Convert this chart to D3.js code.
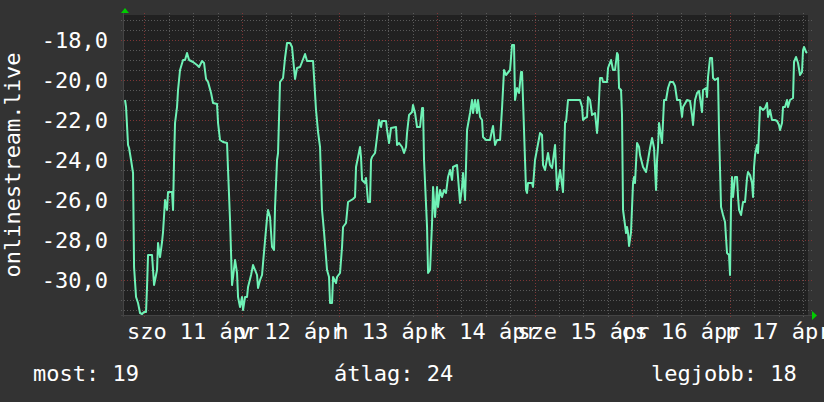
<!DOCTYPE html>
<html><head><meta charset="utf-8">
<script src="https://cdn.jsdelivr.net/npm/d3@7"></script>
<style>html,body{margin:0;padding:0;background:#333;} svg{display:block}</style>
</head><body>
<svg id="c" width="824" height="402"></svg>
<script>
// hours relative to 2020-04-11 00:00
const hours = [-4.75,-4.50,-4.01,-3.76,-3.27,-2.78,-2.53,-2.04,-1.55,-1.06,-0.57,-0.07,0.42,0.66,0.91,1.89,2.14,2.39,3.12,3.37,3.86,4.35,4.60,5.09,5.58,5.83,6.81,7.06,7.31,7.55,8.04,8.29,8.78,9.52,10.01,10.50,11.00,11.98,12.96,13.46,14.19,14.69,15.18,15.67,16.41,16.90,17.88,18.13,18.62,19.36,20.34,20.59,21.08,21.57,21.82,22.31,22.80,23.05,23.54,24.03,24.28,24.77,25.26,25.51,26.25,26.74,27.23,27.72,27.97,28.46,28.95,29.20,30.18,30.43,30.92,31.41,31.90,32.15,32.64,32.89,33.38,34.12,34.61,35.10,35.84,36.33,36.58,37.07,37.56,38.30,38.79,39.53,40.02,41.50,41.74,42.23,42.73,43.22,43.71,44.20,44.94,45.43,45.68,46.17,46.42,47.15,47.40,48.14,48.63,48.88,49.61,50.11,51.34,51.83,52.07,52.57,53.06,53.30,53.55,54.29,54.53,55.03,55.52,55.76,56.01,56.75,57.24,57.73,58.22,58.47,59.45,59.70,60.19,60.68,61.91,62.16,62.65,63.39,63.88,64.37,64.62,65.11,65.85,66.09,66.59,67.08,67.82,68.31,68.56,68.80,69.54,69.79,70.28,70.77,71.02,71.51,72.00,72.24,72.74,73.23,73.72,74.21,74.70,75.20,75.69,75.93,76.92,77.16,77.66,78.15,78.39,78.89,79.38,80.12,80.61,80.85,81.35,81.84,82.08,82.58,83.07,83.31,84.05,85.03,85.53,85.77,86.27,86.76,87.50,87.99,88.48,88.97,89.96,90.45,90.94,91.18,91.68,92.17,92.66,92.91,93.15,93.64,93.89,94.14,94.38,95.37,95.61,96.10,97.34,97.83,98.07,98.56,99.30,99.79,100.29,101.03,101.52,102.26,102.99,103.49,103.73,104.22,107.17,107.67,107.91,108.40,108.90,109.14,109.63,110.13,110.86,111.36,111.60,112.09,112.59,112.83,113.82,114.06,114.80,115.29,115.78,116.28,116.52,116.77,117.26,117.50,117.75,118.24,118.49,118.73,118.98,119.23,119.72,120.21,120.46,120.70,121.20,121.69,121.93,122.67,123.41,123.90,124.39,124.89,125.38,125.87,126.12,126.36,126.61,127.34,127.84,128.33,128.82,129.31,130.05,130.54,131.04,131.77,132.26,132.51,133.50,134.23,134.72,134.97,135.46,135.96,136.45,137.18,137.43,138.17,138.41,138.66,139.15,139.64,139.89,140.38,141.12,141.37,141.86,142.35,142.84,143.33,143.82,144.07,144.32,144.56,144.81,145.30,145.79,146.04,146.29,146.78,147.27,147.76,148.25,148.50,148.99,149.48,149.73,149.98,150.22,150.71,150.96,151.45,152.19,152.68,153.17,153.42,153.91,154.40,155.14,155.63,156.12,156.37,156.86,157.11,157.60,158.09,158.34,158.83,159.57,159.81,160.31,160.80,161.29,161.78,162.03,162.27,162.77,163.01];
const values = [-21.0,-21.35,-23.25,-23.4,-24.0,-24.65,-29.35,-30.85,-31.15,-31.65,-31.7,-31.6,-31.6,-30.35,-28.75,-28.75,-29.5,-30.25,-29.5,-28.15,-28.85,-28.1,-27.6,-26.0,-26.5,-25.6,-25.6,-26.5,-24.0,-22.15,-21.35,-20.5,-19.5,-19.0,-19.0,-18.65,-19.0,-19.1,-19.25,-19.35,-19.05,-19.15,-19.95,-20.1,-20.65,-21.15,-21.2,-22.15,-23.0,-23.1,-23.15,-24.5,-27.0,-30.25,-29.85,-29.0,-29.65,-30.85,-31.35,-30.85,-31.5,-30.85,-30.85,-30.35,-29.75,-29.25,-29.5,-29.75,-30.4,-30.0,-29.75,-29.15,-26.9,-26.5,-26.85,-28.35,-28.5,-26.35,-24.0,-23.65,-20.1,-19.9,-18.9,-18.15,-18.15,-18.35,-18.9,-19.95,-19.4,-19.35,-19.1,-18.7,-19.05,-19.05,-19.85,-21.5,-22.6,-23.35,-26.5,-27.6,-29.5,-29.85,-31.15,-31.15,-29.85,-30.15,-29.85,-29.65,-28.35,-27.35,-27.15,-26.1,-25.95,-25.85,-24.35,-23.85,-23.35,-23.85,-25.0,-25.15,-24.9,-26.1,-26.1,-24.0,-23.85,-23.65,-22.85,-22.0,-22.35,-22.05,-22.05,-22.5,-23.15,-22.4,-22.35,-23.25,-23.15,-23.35,-23.65,-23.35,-22.65,-21.75,-21.6,-21.25,-21.65,-22.35,-22.35,-21.4,-21.4,-24.0,-27.35,-29.65,-29.5,-27.15,-25.35,-26.85,-25.35,-26.35,-25.5,-25.85,-25.5,-25.65,-24.85,-24.5,-25.0,-24.35,-24.25,-24.85,-26.15,-25.35,-24.65,-26.0,-22.5,-21.65,-21.0,-21.65,-21.0,-21.65,-21.0,-21.85,-22.0,-22.85,-23.0,-23.0,-22.5,-22.3,-23.25,-23.0,-23.0,-21.4,-19.5,-19.75,-19.5,-18.25,-18.25,-21.0,-20.4,-20.65,-19.6,-19.6,-21.0,-24.0,-25.5,-25.65,-25.15,-25.15,-25.35,-24.0,-22.65,-22.75,-24.25,-24.5,-23.65,-24.25,-24.4,-23.25,-25.5,-24.5,-25.6,-22.1,-22.1,-21.0,-21.0,-21.35,-22.0,-21.9,-21.85,-20.85,-21.0,-21.75,-21.65,-22.65,-22.0,-19.9,-19.9,-20.1,-20.1,-19.4,-19.0,-19.5,-19.5,-18.65,-18.75,-20.4,-20.5,-21.75,-26.5,-27.25,-27.65,-27.35,-27.65,-28.3,-27.6,-25.15,-24.85,-25.15,-23.15,-23.35,-23.75,-24.35,-24.6,-24.0,-23.4,-22.9,-23.4,-25.5,-24.0,-23.35,-22.15,-23.15,-21.0,-21.0,-20.4,-20.1,-20.1,-20.3,-21.0,-21.0,-21.85,-21.35,-21.0,-21.05,-21.75,-22.25,-21.0,-20.65,-20.55,-21.6,-20.5,-20.4,-20.85,-19.85,-18.9,-18.9,-19.9,-20.0,-19.9,-22.65,-26.35,-26.75,-27.1,-28.65,-28.75,-29.75,-26.1,-24.85,-25.85,-24.85,-24.85,-25.85,-26.5,-26.75,-26.1,-26.1,-24.9,-24.6,-24.75,-25.15,-25.85,-24.35,-23.75,-23.25,-23.65,-21.35,-21.5,-21.4,-21.15,-21.85,-21.5,-22.0,-22.0,-22.05,-22.25,-22.5,-22.15,-21.35,-21.35,-21.0,-21.35,-21.0,-20.9,-19.1,-18.85,-19.15,-19.75,-19.6,-18.5,-18.35,-18.6,-18.65];
const dayLabels = ["szo 11 ápr","v 12 ápr","h 13 ápr","k 14 ápr","sze 15 ápr","cs 16 ápr","p 17 ápr"];
const yTickValues = [-18,-20,-22,-24,-26,-28,-30];
const yTitle = "onlinestream.live";
const legendNames = ["most:","átlag:","legjobb:"];
const legendValues = [19,24,18];

const W = 824, H = 402;
const L = 123, R = 808, T = 15, B = 315;
const FONT = "'DejaVu Sans Mono', monospace";
const FS = 22;
const base = new Date(2020,3,11,0,0,0);
const toDate = h => new Date(base.getTime() + h*3600e3);

const svg = d3.select("#c");
svg.append("rect").attr("width",W).attr("height",H).attr("fill","#333333");

const x = d3.scaleTime().domain([toDate(-5.25), toDate(163.25)]).range([L,R]);
const y = d3.scaleLinear().domain([-31.75,-16.75]).range([B,T]);

svg.append("rect").attr("x",L).attr("y",T).attr("width",R-L).attr("height",B-T).attr("fill","#212121");

const grid = svg.append("g");
const minorY = d3.range(-31.5, -16.74, 0.5).filter(v => Math.abs(v % 2) > 1e-6);
grid.selectAll("line.hmin").data(minorY).join("line")
  .attr("x1",L-2).attr("x2",R+4).attr("y1",d=>Math.round(y(d))+0.5).attr("y2",d=>Math.round(y(d))+0.5)
  .attr("stroke","#5a5a5a").attr("stroke-dasharray","1,2");
const minorX = d3.timeHour.every(6).range(x.domain()[0], x.domain()[1]).filter(d => d.getHours() !== 0);
grid.selectAll("line.vmin").data(minorX).join("line")
  .attr("x1",d=>Math.round(x(d))+0.5).attr("x2",d=>Math.round(x(d))+0.5).attr("y1",T-2).attr("y2",B+2)
  .attr("stroke","#5a5a5a").attr("stroke-dasharray","1,2");
grid.selectAll("line.hmaj").data(yTickValues).join("line")
  .attr("x1",L-2).attr("x2",R+4).attr("y1",d=>Math.round(y(d))+0.5).attr("y2",d=>Math.round(y(d))+0.5)
  .attr("stroke","#7e3636").attr("stroke-dasharray","1,2");
const majorX = d3.timeDay.range(x.domain()[0], x.domain()[1]);
grid.selectAll("line.vmaj").data(majorX).join("line")
  .attr("x1",d=>Math.round(x(d))+0.5).attr("x2",d=>Math.round(x(d))+0.5).attr("y1",T-2).attr("y2",B+2)
  .attr("stroke","#7e3636").attr("stroke-dasharray","1,2");

svg.append("line").attr("x1",L-2).attr("x2",R+6).attr("y1",B+0.5).attr("y2",B+0.5).attr("stroke","#444");
svg.append("line").attr("x1",L+0.5).attr("x2",L+0.5).attr("y1",T-4).attr("y2",B+2).attr("stroke","#444");
svg.append("path").attr("d",`M${L-2},${T-2} L${L+6},${T-2} L${L+2},${T-7} Z`).attr("fill","#00cc00");
svg.append("path").attr("d",`M${R+4},${B-4} L${R+4},${B+5} L${R+9},${B+0.5} Z`).attr("fill","#00cc00");

const data = hours.map((h,i)=>({t:toDate(h), v:values[i]}));
svg.append("defs").append("clipPath").attr("id","pc").append("rect").attr("x",L).attr("y",T).attr("width",R-L).attr("height",B-T);
svg.append("path").datum(data).attr("clip-path","url(#pc)")
  .attr("fill","none").attr("stroke","#6ff2b6").attr("stroke-width",2).attr("stroke-linejoin","round")
  .attr("d", d3.line().x(d=>x(d.t)).y(d=>y(d.v)));

const loc = d3.formatLocale({decimal:",", thousands:" ", grouping:[3], currency:["",""], minus:"-"});
const fmt = loc.format(".1f");
svg.append("g").selectAll("text").data(yTickValues).join("text")
  .attr("x",108).attr("y",d=>y(d)+8).attr("text-anchor","end")
  .attr("font-family",FONT).attr("font-size",FS).attr("fill","#ffffff")
  .text(d=>fmt(d));

const noons = majorX.map(d => d3.timeHour.offset(d,12));
svg.append("g").selectAll("text").data(dayLabels).join("text")
  .attr("x",(d,i)=>x(noons[i])).attr("y",339).attr("text-anchor","middle")
  .attr("font-family",FONT).attr("font-size",FS).attr("fill","#ffffff")
  .text(d=>d);

svg.append("text").attr("transform",`translate(20,${(T+B)/2}) rotate(-90)`).attr("text-anchor","middle")
  .attr("font-family",FONT).attr("font-size",FS).attr("fill","#ffffff").text(yTitle);

const legendX = [33, 334, 651];
svg.append("g").selectAll("text").data(legendNames).join("text")
  .attr("x",(d,i)=>legendX[i]).attr("y",381)
  .attr("font-family",FONT).attr("font-size",FS).attr("fill","#ffffff")
  .text((d,i)=>d+" "+legendValues[i]);
</script>
</body></html>
